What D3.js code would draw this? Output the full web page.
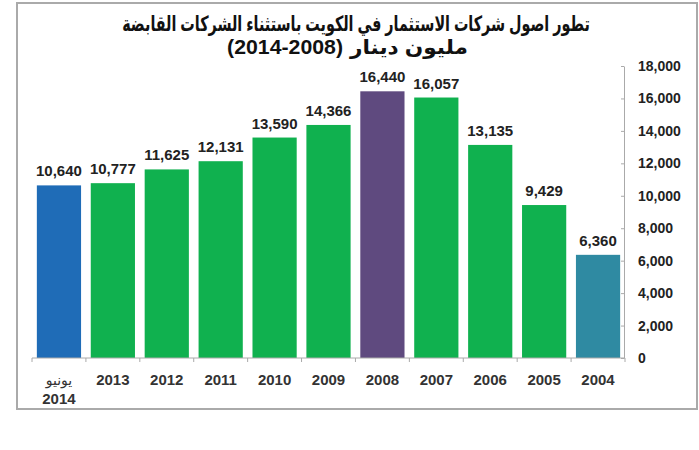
<!doctype html>
<html>
<head>
<meta charset="UTF-8">
<script src="https://d3js.org/d3.v7.min.js"></script>
<style>
  body { margin: 0; background: #fff; }
  text { font-family: "Liberation Sans", Arial, "DejaVu Sans", sans-serif; font-weight: bold; }
</style>
</head>
<body>
<svg id="chart" width="699" height="450"></svg>
<script>
// data
var categories = ["2014", "2013", "2012", "2011", "2010", "2009", "2008", "2007", "2006", "2005", "2004"];
var values = [10640, 10777, 11625, 12131, 13590, 14366, 16440, 16057, 13135, 9429, 6360];
var barColors = ["#1f6cb7", "#10b14f", "#10b14f", "#10b14f", "#10b14f", "#10b14f", "#5f4a7f", "#10b14f", "#10b14f", "#10b14f", "#2f8aa2"];
var yTicks = [0, 2000, 4000, 6000, 8000, 10000, 12000, 14000, 16000, 18000];
var titleLine1 = "تطور اصول شركات الاستثمار في الكويت باستثناء الشركات القابضة";
var titleUnit = "مليون دينار";
var titleYears = "(2014-2008)";

var svg = d3.select("#chart");

// frame
svg.append("rect")
    .attr("x", 17).attr("y", 3)
    .attr("width", 680).attr("height", 406)
    .attr("fill", "none")
    .attr("stroke", "#aaa")
    .attr("stroke-width", 2);

var x = d3.scaleBand()
    .domain(categories)
    .range([32, 625])
    .paddingInner(0.18)
    .paddingOuter(0.09);

var y = d3.scaleLinear()
    .domain([0, 18000])
    .range([358, 66]);

// bars
svg.selectAll(".bar")
    .data(values)
    .enter().append("rect")
    .attr("class", "bar")
    .attr("x", function (d, i) { return x(categories[i]); })
    .attr("y", function (d) { return y(d); })
    .attr("width", x.bandwidth())
    .attr("height", function (d) { return y(0) - y(d); })
    .attr("fill", function (d, i) { return barColors[i]; });

// value labels
var fmt = d3.format(",");
svg.selectAll(".val")
    .data(values)
    .enter().append("text")
    .attr("class", "val")
    .attr("x", function (d, i) { return x(categories[i]) + x.bandwidth() / 2; })
    .attr("y", function (d) { return y(d) - 9; })
    .attr("text-anchor", "middle")
    .attr("font-size", 15)
    .attr("fill", "#222")
    .text(function (d) { return fmt(d); });

// x axis
var xAxis = svg.append("g")
    .attr("transform", "translate(0," + y(0) + ")");
xAxis.append("line")
    .attr("x1", 32).attr("x2", 625)
    .attr("stroke", "#aaa");
var bounds = categories.map(function (c) { return x(c) - x.step() * x.paddingInner() / 2; });
bounds.push(625);
xAxis.selectAll(".xt")
    .data(bounds)
    .enter().append("line")
    .attr("x1", function (d) { return d; })
    .attr("x2", function (d) { return d; })
    .attr("y1", 0).attr("y2", 4)
    .attr("stroke", "#aaa");
var catLabels = xAxis.selectAll(".cl")
    .data(categories)
    .enter().append("text")
    .attr("x", function (d) { return x(d) + x.bandwidth() / 2; })
    .attr("y", 27)
    .attr("text-anchor", "middle")
    .attr("font-size", 15)
    .attr("fill", "#333");
catLabels.each(function (d, i) {
    var t = d3.select(this);
    if (i === 0) {
        t.append("tspan").attr("x", x(d) + x.bandwidth() / 2).attr("dy", 0)
            .attr("font-size", 14).style("font-weight", "normal").text("يونيو");
        t.append("tspan").attr("x", x(d) + x.bandwidth() / 2).attr("dy", 19).text(d);
    } else {
        t.text(d);
    }
});

// y axis on the right
var yAxis = svg.append("g")
    .attr("transform", "translate(624,0)")
    .call(d3.axisRight(y).tickValues(yTicks).tickSize(0).tickPadding(14).tickFormat(d3.format(",")));
yAxis.select(".domain").attr("stroke", "#aaa");
yAxis.selectAll(".tick text")
    .attr("font-size", 14)
    .attr("fill", "#222")
    .style("font-family", "'Liberation Sans', Arial, sans-serif")
    .style("font-weight", "bold");
yAxis.selectAll(".tick").append("line")
    .attr("x1", -3).attr("x2", 0)
    .attr("stroke", "#aaa");

// title: squeeze the Arabic horizontally to the width seen in the reference
function fitText(str, cx, cy, size, targetW, anchor) {
    var g = svg.append("g");
    var t = g.append("text")
        .attr("font-size", size)
        .attr("fill", "#111")
        .attr("text-anchor", anchor)
        .text(str);
    var w = t.node().getComputedTextLength();
    var sx = targetW ? targetW / w : 1;
    g.attr("transform", "translate(" + cx + "," + cy + ") scale(" + sx + ",1)");
}
fitText(titleLine1, 356, 31, 21, 468, "middle");
fitText(titleUnit, 350, 54, 20, 118, "start");
fitText(titleYears, 343, 54, 20, 116, "end");
</script>
</body>
</html>
